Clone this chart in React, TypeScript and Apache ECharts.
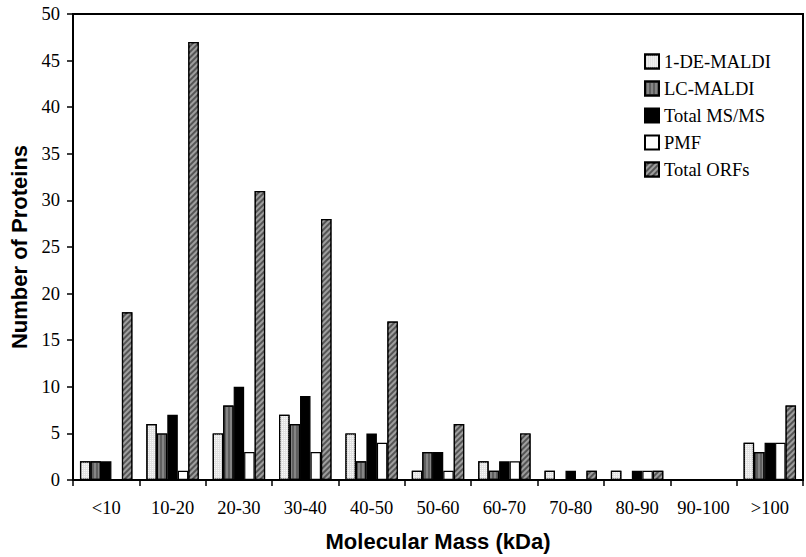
import React, { useEffect, useRef } from "react";
import * as echarts from "echarts";

const categories = ["<10", "10-20", "20-30", "30-40", "40-50", "50-60", "60-70", "70-80", "80-90", "90-100", ">100"];
const deMaldi = [2, 6, 5, 7, 5, 1, 2, 1, 1, 0, 4];
const lcMaldi = [2, 5, 8, 6, 2, 3, 1, 0, 0, 0, 3];
const totalMsMs = [2, 7, 10, 9, 5, 3, 2, 1, 1, 0, 4];
const pmf = [0, 1, 3, 3, 4, 1, 2, 0, 1, 0, 4];
const totalOrfs = [18, 47, 31, 28, 17, 6, 5, 1, 1, 0, 8];
const yTicks = [0, 5, 10, 15, 20, 25, 30, 35, 40, 45, 50];

const serif = "Liberation Serif";
const sans = "Liberation Sans";

export default function App() {
  const ref = useRef<HTMLDivElement>(null);
  useEffect(() => {
    if (!ref.current) return;
    const chart = echarts.init(ref.current, null, { renderer: "svg" });
    const border = { borderColor: "#000", borderWidth: 1.2 };
    const mk = (name: string, data: number[], color: string, decal?: any) => ({
      name,
      type: "bar",
      data,
      barGap: "0%",
      barCategoryGap: "21%",
      itemStyle: { color, ...border, ...(decal ? { decal } : {}) },
    });
    chart.setOption({
      animation: false,
      backgroundColor: "#fff",
      grid: { left: 73, right: 3, top: 14, bottom: 72, show: true, borderColor: "#000", borderWidth: 2 },
      legend: {
        orient: "vertical",
        left: 639,
        top: 47,
        itemWidth: 14,
        itemHeight: 14,
        itemGap: 8,
        icon: "rect",
        textStyle: { fontFamily: serif, fontSize: 18.5, color: "#000" },
        data: ["1-DE-MALDI", "LC-MALDI", "Total MS/MS", "PMF", "Total ORFs"],
      },
      xAxis: {
        type: "category",
        data: categories,
        name: "Molecular Mass (kDa)",
        nameLocation: "middle",
        nameGap: 50,
        nameTextStyle: { fontFamily: sans, fontWeight: "bold", fontSize: 22, color: "#000" },
        axisLine: { lineStyle: { color: "#000", width: 2 } },
        axisTick: { show: true, inside: false, length: 6, lineStyle: { color: "#000", width: 1.5 } },
        axisLabel: { interval: 0, hideOverlap: false, fontFamily: serif, fontSize: 18.5, color: "#000", margin: 18 },
      },
      yAxis: {
        type: "value",
        min: 0,
        max: 50,
        interval: 5,
        name: "Number of Proteins",
        nameLocation: "middle",
        nameGap: 40,
        nameTextStyle: { fontFamily: sans, fontWeight: "bold", fontSize: 22, color: "#000" },
        axisLine: { show: true, lineStyle: { color: "#000", width: 2 } },
        axisTick: { show: true, inside: false, length: 6, lineStyle: { color: "#000", width: 1.5 } },
        axisLabel: {
          fontFamily: serif, fontSize: 18.5, color: "#000", margin: 13,
          formatter: (v: number) => (yTicks.includes(v) ? String(v) : ""),
        },
        splitLine: { show: false },
      },
      series: [
        mk("1-DE-MALDI", deMaldi, "#e2e2e2", { symbol: "rect", symbolSize: 1, dashArrayX: [1, 1], dashArrayY: [1, 1], color: "rgba(255,255,255,0.8)" }),
        mk("LC-MALDI", lcMaldi, "#858585", { symbol: "rect", symbolSize: 1, dashArrayX: [2, 2], dashArrayY: [1, 0], color: "rgba(60,60,60,0.5)" }),
        mk("Total MS/MS", totalMsMs, "#000"),
        mk("PMF", pmf, "#fff"),
        mk("Total ORFs", totalOrfs, "#555555", { symbol: "rect", symbolSize: 1, dashArrayX: [1, 0], dashArrayY: [2, 2], rotation: -Math.PI / 4, color: "rgba(190,190,190,0.7)" }),
      ],
    });
    return () => chart.dispose();
  }, []);
  return <div ref={ref} style={{ position: "absolute", left: 0, top: 0, width: 806, height: 557 }} />;
}
